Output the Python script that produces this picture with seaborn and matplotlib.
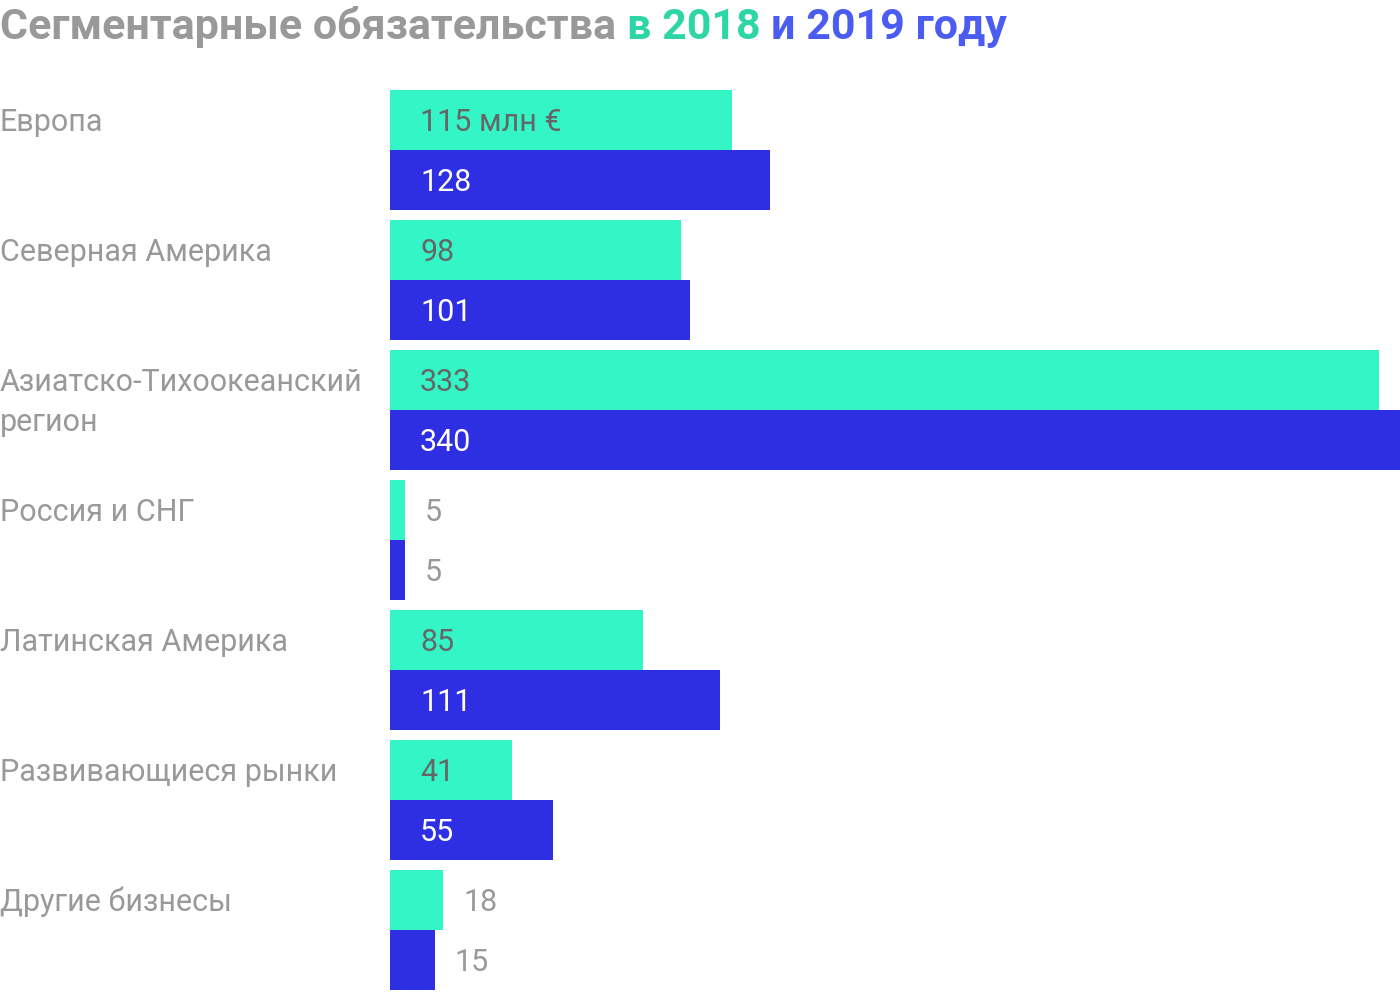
import pandas as pd
import matplotlib
matplotlib.use("Agg")
import matplotlib.pyplot as plt
import matplotlib.transforms as mtransforms
import seaborn as sns

# данные
categories = ["Европа", "Северная Америка", "Азиатско-Тихоокеанский\nрегион",
              "Россия и СНГ", "Латинская Америка", "Развивающиеся рынки", "Другие бизнесы"]
years = ["2018", "2019"]
values_2018 = [115, 98, 333, 5, 85, 41, 18]
values_2019 = [128, 101, 340, 5, 111, 55, 15]
first_suffix = " млн €"

GREEN = "#33F5C6"
BLUE = "#2E2EE3"
GRAY = "#999999"
TXT_DARK = "#666666"

df = pd.DataFrame({
    "region": categories * 2,
    "year": [years[0]] * len(categories) + [years[1]] * len(categories),
    "value": values_2018 + values_2019,
})

sns.set_theme(style="white")
plt.rcParams["font.family"] = ["Roboto", "DejaVu Sans"]

fig = plt.figure(figsize=(14, 9.92), dpi=100)
ax = fig.add_axes([390 / 1400, 2 / 992, 1010 / 1400, 900 / 992])

w = 120 / 130
sns.barplot(data=df, y="region", x="value", hue="year", orient="h",
            palette=[GREEN, BLUE], width=w, saturation=1, legend=False,
            linewidth=0, ax=ax)
ax.set_xlim(0, max(values_2019 + values_2018))
ax.set_ylim(len(categories) - 1 + w / 2, -w / 2)
ax.axis("off")

PX = 72 / 100  # пиксели -> пункты
FS = 22
for k, cont in enumerate(ax.containers):
    for j, bar in enumerate(cont):
        v = bar.get_width()
        yc = bar.get_y() + bar.get_height() / 2
        label = f"{v:.0f}"
        if k == 0 and j == 0:
            label += first_suffix
        if v < 30:
            ax.annotate(label, (v, yc), xytext=(20 * PX, -2 * PX), textcoords="offset points",
                        va="center", ha="left", fontsize=FS, color=GRAY)
        else:
            ax.annotate(label, (0, yc), xytext=(30 * PX, -2 * PX), textcoords="offset points",
                        va="center", ha="left", fontsize=FS,
                        color=TXT_DARK if k == 0 else "white")

# подписи категорий слева
trans = mtransforms.blended_transform_factory(fig.transFigure, ax.transData)
for j, bar in enumerate(ax.containers[0]):
    yc = bar.get_y() + bar.get_height() / 2
    for i, line in enumerate(categories[j].split("\n")):
        ax.annotate(line, (0, yc), xycoords=trans,
                    xytext=(0, (-2 - 40 * i) * PX), textcoords="offset points",
                    ha="left", va="center", fontsize=FS, color=GRAY,
                    annotation_clip=False)

# заголовок из цветных кусков
parts = [("Сегментарные обязательства ", GRAY), ("в 2018 ", "#2DD6A6"), ("и 2019 году", "#4A5CF2")]
renderer = fig.canvas.get_renderer()
x = 0.0
for txt, col in parts:
    t = fig.text(x, 1 - 39 / 992, txt, fontsize=31, fontweight="bold", color=col,
                 ha="left", va="baseline")
    bb = t.get_window_extent(renderer=renderer)
    x += bb.width / fig.bbox.width

fig.savefig("out.png", dpi=100)
